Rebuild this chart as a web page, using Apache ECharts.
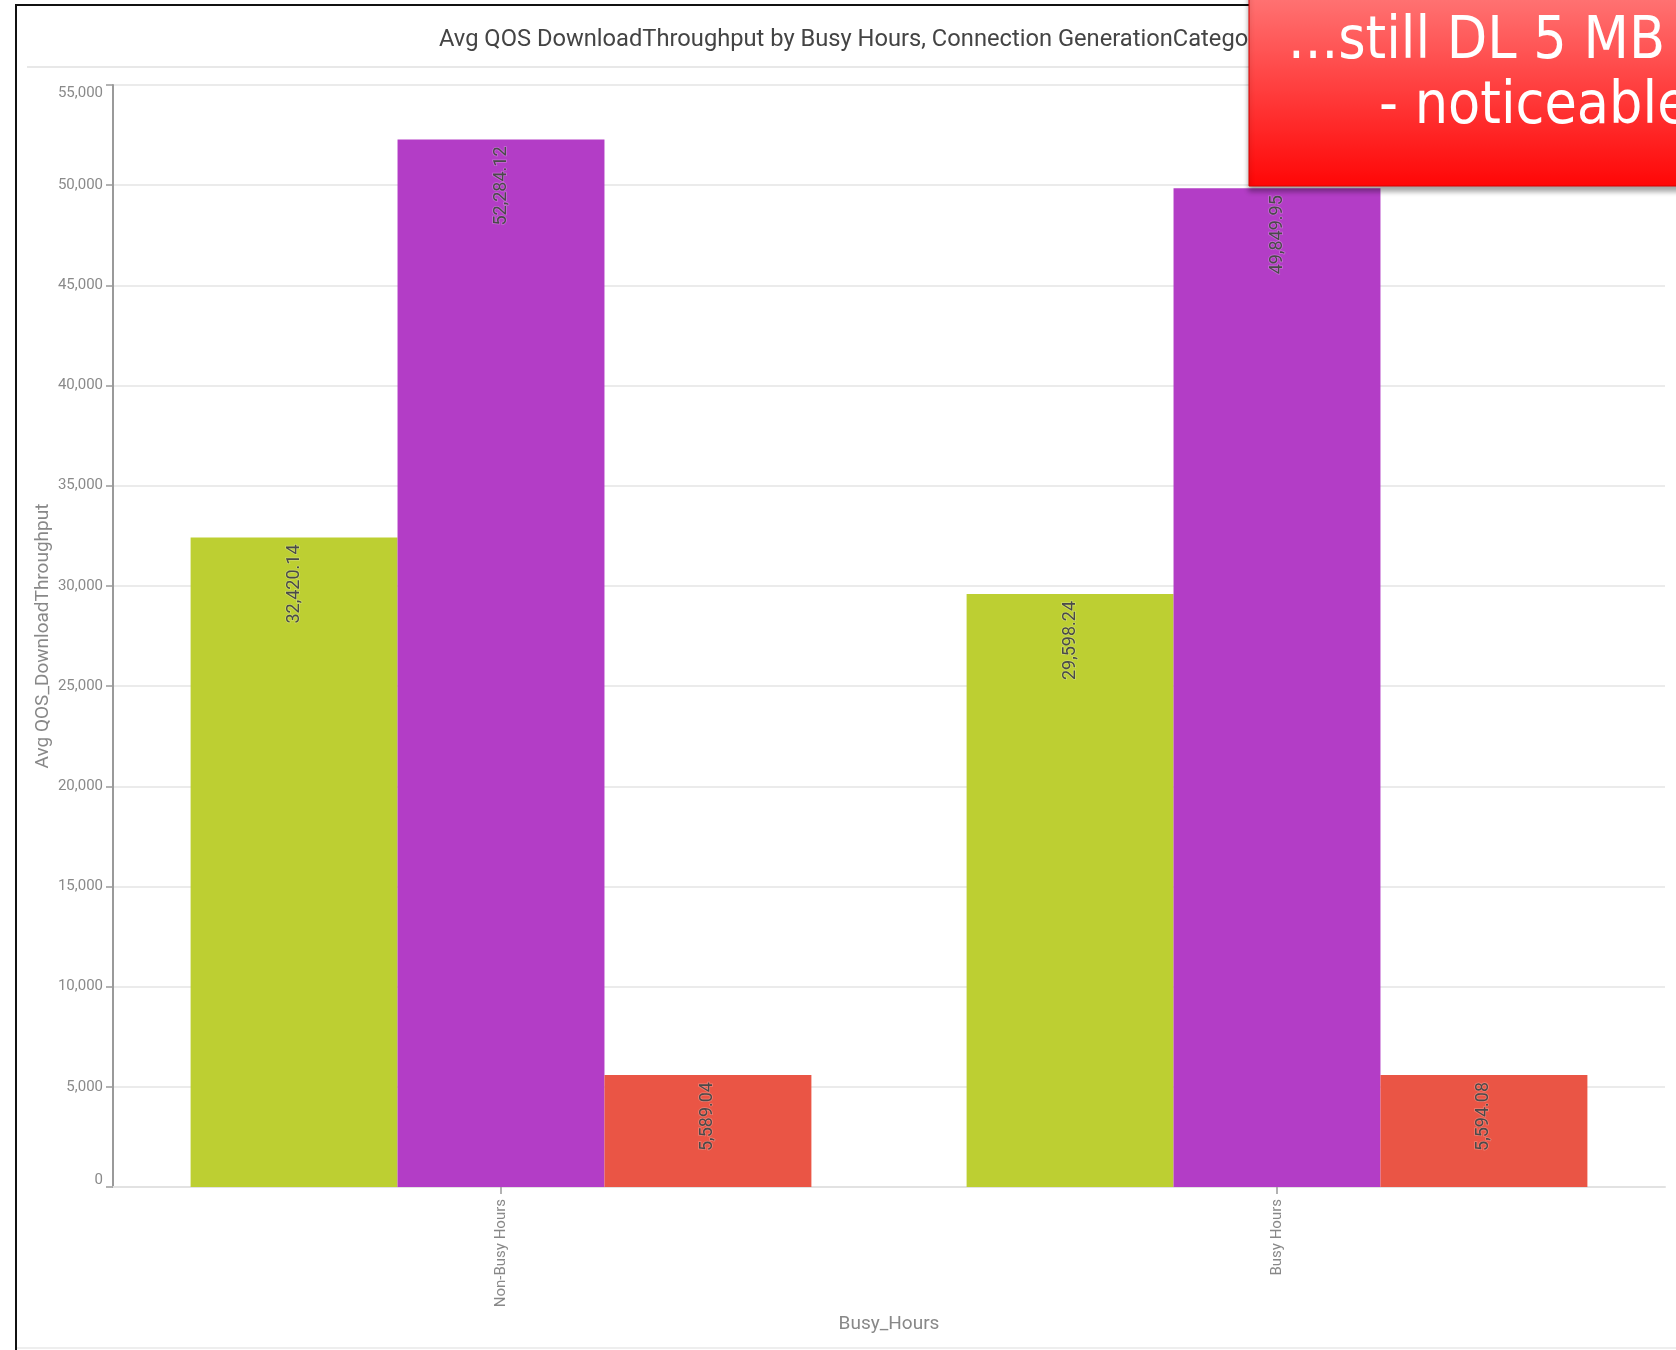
<!DOCTYPE html>
<html>
<head>
<meta charset="utf-8">
<title>Avg QOS DownloadThroughput by Busy Hours</title>
<script src="https://cdn.jsdelivr.net/npm/echarts@6/dist/echarts.min.js"></script>
<style>
  html, body { margin: 0; padding: 0; background: #ffffff; }
  #chart { width: 1676px; height: 1350px; }
</style>
</head>
<body>
<div id="chart"></div>
<script>
// Busy-hour categories on the x axis
const categories = ['Non-Busy Hours', 'Busy Hours'];

// Average download throughput per connection generation
const seriesNames = ['4G', '5G', '3G'];
const gen4Values = [32420.14, 29598.24];
const gen5Values = [52284.12, 49849.95];
const gen3Values = [5589.04, 5594.08];

// Y axis scale
const yMin = 0;
const yMax = 55000;
const yStep = 5000;

const colors = ['#bdcf32', '#b33dc6', '#ea5545'];

const fmt2 = v => v.toLocaleString('en-US', { minimumFractionDigits: 2, maximumFractionDigits: 2 });
const fmt0 = v => v.toLocaleString('en-US');

const labelStyle = {
  show: true,
  position: 'insideTop',
  distance: 7,
  rotate: 90,
  align: 'right',
  verticalAlign: 'middle',
  fontFamily: 'Roboto',
  fontSize: 18,
  color: '#4a4a4a',
  textBorderColor: 'rgba(255,255,255,0.25)',
  textBorderWidth: 1.5,
  formatter: p => fmt2(p.value)
};

function barSeries(name, data, color) {
  return {
    name: name,
    type: 'bar',
    data: data,
    barGap: '0%',
    barCategoryGap: '20%',
    itemStyle: { color: color },
    label: labelStyle,
    emphasis: { disabled: true }
  };
}

// first and last tick labels are nudged inwards so they stay inside the plot
function yLabel(v) {
  const s = fmt0(v);
  if (v === yMax) return '{top|' + s + '}';
  if (v === yMin) return '{bot|' + s + '}';
  return s;
}

const yLabelText = { fontFamily: 'Roboto', fontSize: 15, color: '#8a8a8a' };

const chart = echarts.init(document.getElementById('chart'), null, { renderer: 'canvas' });

chart.setOption({
  backgroundColor: '#ffffff',
  animation: false,
  title: {
    text: 'Avg QOS DownloadThroughput by Busy Hours, Connection GenerationCategory',
    left: 439,
    top: 28,
    padding: 0,
    textStyle: { fontFamily: 'Roboto', fontSize: 23.7, fontWeight: 'normal', color: '#444444' }
  },
  grid: { left: 113, right: 11, top: 85, bottom: 163, containLabel: false },
  xAxis: {
    type: 'category',
    data: categories,
    name: 'Busy_Hours',
    nameLocation: 'middle',
    nameGap: 124,
    nameTextStyle: { fontFamily: 'Roboto', fontSize: 19, color: '#888888' },
    axisLine: { show: true, lineStyle: { color: '#e2e2e2', width: 2 } },
    axisTick: { show: true, alignWithLabel: true, length: 7, lineStyle: { color: '#999999', width: 1.5 } },
    axisLabel: { rotate: 90, margin: 12, fontFamily: 'Roboto', fontSize: 15, color: '#888888' },
    splitLine: { show: false }
  },
  yAxis: {
    type: 'value',
    min: yMin,
    max: yMax,
    interval: yStep,
    name: 'Avg QOS_DownloadThroughput',
    nameLocation: 'middle',
    nameGap: 60,
    nameMoveOverlap: false,
    nameTextStyle: { fontFamily: 'Roboto', fontSize: 19, color: '#888888' },
    axisLine: { show: true, lineStyle: { color: '#9a9a9a', width: 2 } },
    axisTick: { show: true, length: 7, lineStyle: { color: '#9a9a9a', width: 1.5 } },
    axisLabel: Object.assign({
      margin: 10,
      formatter: yLabel,
      rich: {
        top: Object.assign({ padding: [16, 0, 0, 0] }, yLabelText),
        bot: Object.assign({ padding: [0, 0, 14, 0] }, yLabelText)
      }
    }, yLabelText),
    splitLine: { show: true, lineStyle: { color: '#ebebeb', width: 2 } }
  },
  series: [
    barSeries(seriesNames[0], gen4Values, colors[0]),
    barSeries(seriesNames[1], gen5Values, colors[1]),
    barSeries(seriesNames[2], gen3Values, colors[2])
  ],
  graphic: [
    // frame of the chart panel
    { type: 'line', z: 50, shape: { x1: 16, y1: 5, x2: 1676, y2: 5 }, style: { stroke: '#111111', lineWidth: 2 } },
    { type: 'line', z: 50, shape: { x1: 16, y1: 4, x2: 16, y2: 1350 }, style: { stroke: '#111111', lineWidth: 2 } },
    { type: 'line', z: 50, shape: { x1: 17, y1: 1348, x2: 1676, y2: 1348 }, style: { stroke: '#eeeeee', lineWidth: 2 } },
    // separator under the title
    { type: 'line', z: 50, shape: { x1: 27, y1: 67, x2: 1676, y2: 67 }, style: { stroke: '#e8e8e8', lineWidth: 2 } },
    // callout box
    {
      type: 'rect',
      z: 200,
      shape: { x: 1249, y: -20, width: 460, height: 206 },
      style: {
        fill: new echarts.graphic.LinearGradient(0, 0, 0, 1, [
          { offset: 0, color: '#ff7d7d' },
          { offset: 1, color: '#ff0606' }
        ]),
        stroke: '#d80000',
        lineWidth: 1,
        shadowColor: 'rgba(0,0,0,0.35)',
        shadowBlur: 5,
        shadowOffsetX: 0,
        shadowOffsetY: 5
      }
    },
    {
      type: 'text',
      z: 210,
      x: 1288,
      y: 72,
      style: {
        text: '...still DL 5 MB',
        fill: '#ffffff',
        fontFamily: 'DejaVu Sans Condensed',
        fontSize: 58.5,
        verticalAlign: 'bottom',
        align: 'left'
      }
    },
    {
      type: 'text',
      z: 210,
      x: 1379,
      y: 137,
      style: {
        text: '- noticeable',
        fill: '#ffffff',
        fontFamily: 'DejaVu Sans Condensed',
        fontSize: 58.5,
        verticalAlign: 'bottom',
        align: 'left'
      }
    }
  ]
});
</script>
</body>
</html>
